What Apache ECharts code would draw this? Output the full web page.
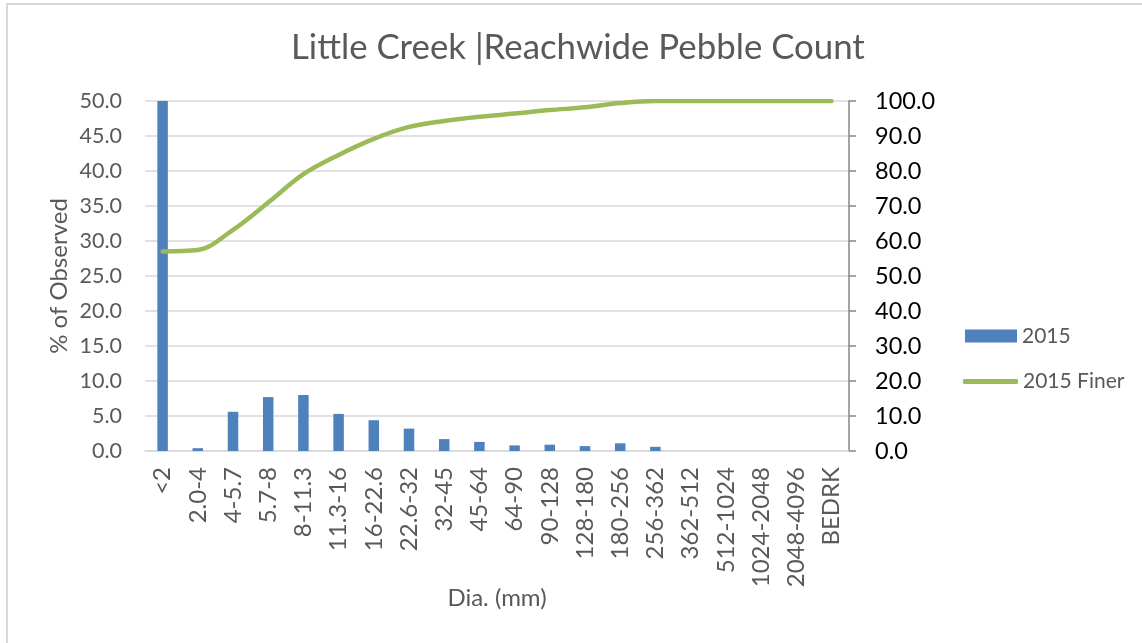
<!DOCTYPE html>
<html>
<head>
<meta charset="utf-8">
<script src="https://cdn.jsdelivr.net/npm/echarts@6/dist/echarts.min.js"></script>
<style>
  html, body { margin: 0; padding: 0; background: #ffffff; }
  #frame {
    position: absolute; left: 6px; top: 3px; width: 1200px; height: 700px;
    border-left: 2px solid #d9d9d9; border-top: 2px solid #d9d9d9;
  }
  #chart { position: absolute; left: 0; top: 0; width: 1142px; height: 643px; }
</style>
</head>
<body>
<div id="frame"></div>
<div id="chart"></div>
<script>
// Particle size classes (mm)
const sizeClasses = ['<2', '2.0-4', '4-5.7', '5.7-8', '8-11.3', '11.3-16', '16-22.6', '22.6-32',
  '32-45', '45-64', '64-90', '90-128', '128-180', '180-256', '256-362', '362-512',
  '512-1024', '1024-2048', '2048-4096', 'BEDRK'];

// Percent of pebbles observed in each class
const pctObserved = [57.0, 0.4, 5.6, 7.7, 8.0, 5.3, 4.4, 3.2, 1.7, 1.3, 0.8, 0.9, 0.7, 1.1, 0.6,
  0, 0, 0, 0, 0];

// Cumulative percent finer
const pctFiner = [57.0, 57.4, 63.2, 71.0, 79.1, 84.6, 89.2, 92.6, 94.3, 95.5, 96.4, 97.4, 98.2,
  99.4, 100, 100, 100, 100, 100, 100];

const leftTicks = { min: 0, max: 50, interval: 5 };
const rightTicks = { min: 0, max: 100, interval: 10 };

const FONT = 'Lato, "Open Sans", sans-serif';
const GREY = '#595959';

const chart = echarts.init(document.getElementById('chart'), null, { renderer: 'canvas' });

chart.setOption({
  animation: false,
  backgroundColor: 'transparent',
  textStyle: { fontFamily: FONT },
  title: {
    text: 'Little Creek |Reachwide Pebble Count',
    left: 286,
    top: 25,
    textStyle: { fontFamily: FONT, fontSize: 34.8, fontWeight: 'normal', color: GREY }
  },
  legend: [
    {
      data: [{ name: '2015', icon: 'rect' }],
      left: 965, top: 324, padding: 0,
      itemWidth: 52, itemHeight: 13, itemGap: 6,
      textStyle: { fontFamily: FONT, fontSize: 21, lineHeight: 24, color: GREY }
    },
    {
      data: [{ name: '2015 Finer', icon: 'roundRect' }],
      left: 963, top: 369.5, padding: 0,
      itemWidth: 55, itemHeight: 5, itemGap: 6,
      textStyle: { fontFamily: FONT, fontSize: 21, lineHeight: 24, color: GREY }
    }
  ],
  grid: { left: 145, right: 293, top: 101, bottom: 192, containLabel: false },
  xAxis: {
    type: 'category',
    data: sizeClasses,
    name: 'Dia. (mm)',
    nameLocation: 'middle',
    nameGap: 135,
    nameMoveOverlap: false,
    nameTextStyle: { fontFamily: FONT, fontSize: 24, color: GREY },
    axisLine: { show: true, lineStyle: { color: '#d9d9d9', width: 1.5 } },
    axisTick: { show: false },
    axisLabel: { rotate: 90, interval: 0, margin: 16, fontFamily: FONT, fontSize: 24, color: GREY }
  },
  yAxis: [
    {
      type: 'value',
      min: leftTicks.min, max: leftTicks.max, interval: leftTicks.interval,
      name: '% of Observed',
      nameLocation: 'middle',
      nameGap: 74,
      nameMoveOverlap: false,
      nameRotate: 90,
      nameTextStyle: { fontFamily: FONT, fontSize: 24, color: GREY },
      axisLine: { show: false },
      axisTick: { show: false },
      splitLine: { show: true, lineStyle: { color: '#d9d9d9', width: 1.5 } },
      axisLabel: {
        margin: 23, fontFamily: FONT, fontSize: 21.5, color: GREY,
        formatter: v => v.toFixed(1)
      }
    },
    {
      type: 'value',
      position: 'right',
      min: rightTicks.min, max: rightTicks.max, interval: rightTicks.interval,
      axisLine: { show: true, lineStyle: { color: '#868686', width: 1.5 } },
      axisTick: { show: true, inside: false, length: 7, lineStyle: { color: '#868686', width: 1.5 } },
      splitLine: { show: false },
      axisLabel: {
        margin: 26, fontFamily: FONT, fontSize: 23.5, color: '#000000',
        formatter: v => v.toFixed(1)
      }
    }
  ],
  series: [
    {
      name: '2015',
      type: 'bar',
      yAxisIndex: 0,
      data: pctObserved,
      barWidth: 10.5,
      clip: true,
      itemStyle: { color: '#4f81bd' }
    },
    {
      name: '2015 Finer',
      type: 'line',
      yAxisIndex: 1,
      data: pctFiner,
      smooth: 0.35,
      symbol: 'none',
      lineStyle: { color: '#9bbb59', width: 4.5, cap: 'round', join: 'round' },
      itemStyle: { color: '#9bbb59' },
      z: 3
    }
  ]
});
</script>
</body>
</html>
